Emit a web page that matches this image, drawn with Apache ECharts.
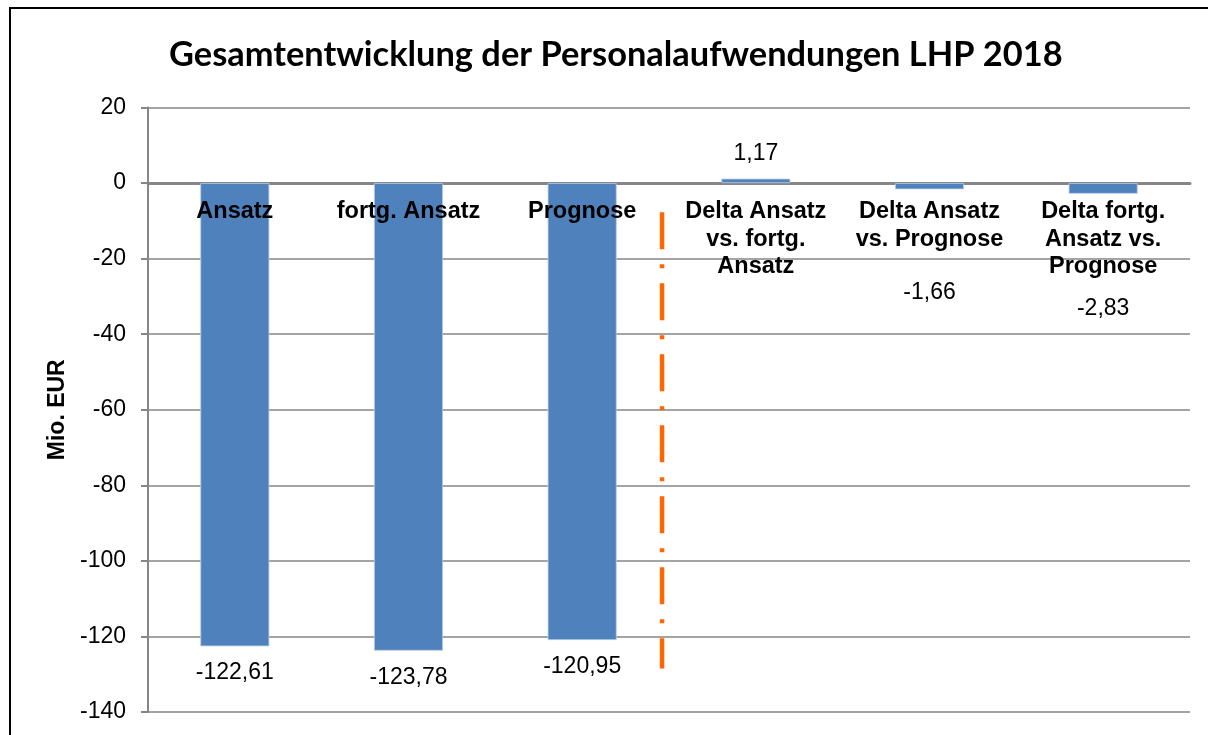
<!DOCTYPE html>
<html>
<head>
<meta charset="utf-8">
<script src="https://cdn.jsdelivr.net/npm/echarts@6/dist/echarts.min.js"></script>
<style>
html,body{margin:0;padding:0;background:#fff;}
#c{width:1208px;height:735px;}
</style>
</head>
<body>
<div id="c"></div>
<script>
const titleText = 'Gesamtentwicklung der Personalaufwendungen LHP 2018';
const yAxisName = 'Mio. EUR';
const categories = ['Ansatz', 'fortg. Ansatz', 'Prognose', 'Delta Ansatz\nvs. fortg.\nAnsatz', 'Delta Ansatz\nvs. Prognose', 'Delta fortg.\nAnsatz vs.\nPrognose'];
const values = [-122.61, -123.78, -120.95, 1.17, -1.66, -2.83];
const yMin = -140, yMax = 20, yStep = 20;

const labelDist = [15, 15, 15, 13, 92, 103];
const fmt = v => v.toFixed(2).replace('.', ',');
const grey = '#868686';
const gridTop = 107.5;

function buildXAxes(offset) {
  return [{
    type: 'category', data: categories,
    axisLine: { onZero: true, lineStyle: { color: grey, width: 3 } },
    axisTick: { show: false },
    axisLabel: { show: false }
  }, {
    type: 'category', data: categories, position: 'top', offset: offset, z: 10,
    axisLine: { show: false }, axisTick: { show: false }, splitLine: { show: false },
    axisLabel: {
      inside: true, interval: 0, margin: 15, color: '#000', fontFamily: 'Liberation Sans', fontWeight: 'bold',
      fontSize: 23.5, lineHeight: 27.5, align: 'center', verticalAlign: 'top'
    }
  }];
}

const frame = {
  type: 'polyline', silent: true,
  shape: { points: [[10, 900], [10, 8], [1500, 8]] },
  style: { fill: 'none', stroke: '#000', lineWidth: 2 }
};

const chart = echarts.init(document.getElementById('c'));
chart.setOption({
  animation: false,
  backgroundColor: '#fff',
  title: {
    text: titleText, left: 164, top: 33,
    textStyle: { fontFamily: 'Lato', fontWeight: 'bold', fontSize: 34.4, color: '#000' }
  },
  grid: { left: 148, right: 18, top: gridTop, bottom: 23, containLabel: false, outerBoundsMode: 'none' },
  xAxis: buildXAxes(0),
  yAxis: {
    type: 'value', min: yMin, max: yMax, interval: yStep,
    name: yAxisName, nameLocation: 'middle', nameGap: 79, nameRotate: 90,
    nameTextStyle: { fontFamily: 'Liberation Sans', fontWeight: 'bold', fontSize: 23, color: '#000' },
    axisLine: { show: true, lineStyle: { color: grey, width: 2 } },
    axisTick: { show: true, length: 7, lineStyle: { color: grey, width: 2 } },
    axisLabel: { margin: 22, color: '#000', fontFamily: 'Liberation Sans', fontSize: 23 },
    splitLine: { lineStyle: { color: grey, width: 1.5 } }
  },
  series: [{
    type: 'bar', barWidth: 69, xAxisIndex: 0,
    data: values.map((v, i) => ({
      value: v,
      label: { show: true, position: v >= 0 ? 'top' : 'bottom', distance: labelDist[i] }
    })),
    itemStyle: { color: '#4f81bd', borderColor: '#b9cde5', borderWidth: 0.8 },
    label: { formatter: p => fmt(p.value), color: '#000', fontFamily: 'Liberation Sans', fontSize: 23 }
  }],
  graphic: [frame]
});

const zeroY = chart.convertToPixel({ yAxisIndex: 0 }, 0);
const p2 = chart.convertToPixel({ xAxisIndex: 0 }, categories[2]);
const p3 = chart.convertToPixel({ xAxisIndex: 0 }, categories[3]);
const sx = p2 + 0.46 * (p3 - p2);
const y1 = chart.convertToPixel({ yAxisIndex: 0 }, -7.7);
const y2 = chart.convertToPixel({ yAxisIndex: 0 }, -128.5);
chart.setOption({
  xAxis: buildXAxes(-(zeroY - gridTop)),
  graphic: [frame, {
    type: 'line', silent: true, z: 20,
    shape: { x1: sx, y1: y1, x2: sx, y2: y2 },
    style: { stroke: '#ff6600', lineWidth: 4.5, lineDash: [37, 15, 4, 15] }
  }]
});
</script>
</body>
</html>
